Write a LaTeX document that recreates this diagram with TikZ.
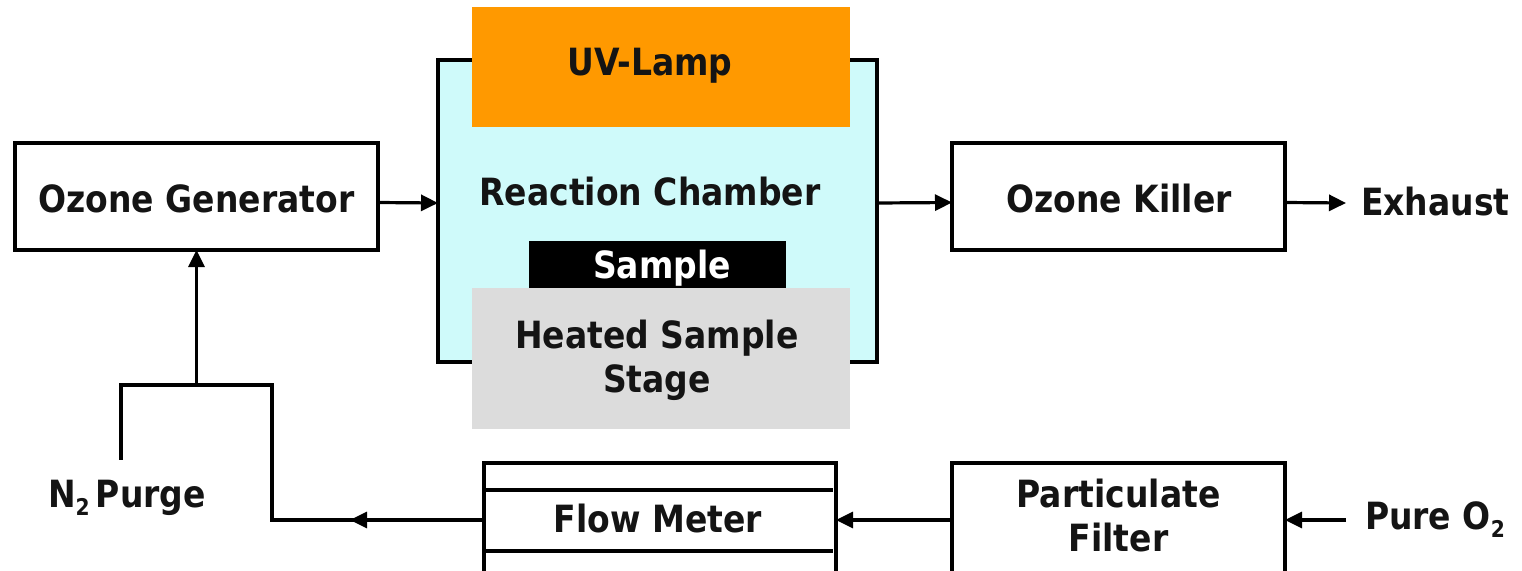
\documentclass[tikz,border=0pt]{standalone}
\usepackage{fontspec}
\setmainfont[FakeStretch=0.88]{DejaVu Sans}
\usetikzlibrary{arrows.meta}
\definecolor{chamberfill}{HTML}{CFFAFA}
\definecolor{lamporange}{HTML}{FF9900}
\definecolor{stagegray}{HTML}{DCDCDC}
\definecolor{inkdark}{HTML}{141414}
\newcommand\lowtwo{\raisebox{-8pt}{\fontsize{23}{23}\selectfont 2}}
\tikzset{
  boxstyle/.style={draw=black, line width=3.5pt, fill=white, inner sep=0pt, outer sep=0pt},
  fillblock/.style={inner sep=0pt, outer sep=0pt},
  txt/.style={text=inkdark, align=center, inner sep=0pt, outer sep=0pt},
  arr/.style={line width=3.2pt, -{Triangle[length=17pt,width=16pt]}},
  wire/.style={line width=3.2pt}
}
\begin{document}
\begin{tikzpicture}[x=1pt,y=-1pt,font=\bfseries\fontsize{37.5}{44}\selectfont]
\useasboundingbox (0,0) rectangle (1522,570);
% reaction chamber
\node[boxstyle, fill=chamberfill, minimum width=439, minimum height=302] (ch) at (657.5,211) {};
\node[fillblock, fill=lamporange, minimum width=378, minimum height=120] (uv) at (661,67) {};
\node[txt] (uvtext) at (650,66) {UV-Lamp};
\node[txt] (chtext) at (650,192) {Reaction Chamber};
\node[fillblock, fill=black, minimum width=257, minimum height=54] (smp) at (657.5,268) {};
\node[txt, text=white] (smptext) at (662,268) {Sample};
\node[fillblock, fill=stagegray, minimum width=378, minimum height=141] (stg) at (661,358.5) {};
\node[txt] (stgtext) at (657,360) {Heated Sample\\Stage};
% top row
\node[boxstyle, minimum width=363, minimum height=107] (og) at (196.5,196.5) {};
\node[txt] (ogtext) at (196.5,199) {Ozone Generator};
\node[boxstyle, minimum width=333, minimum height=107] (ok) at (1118.5,196.5) {};
\node[txt] (oktext) at (1119,199) {Ozone Killer};
\node[txt, anchor=west] (exh) at (1361,202) {Exhaust};
\coordinate (exhin) at (1346,203);
% bottom row
\node[boxstyle, minimum width=352, minimum height=130] (fm) at (660,528) {};
\node[txt] (fmtext) at (658,519) {Flow Meter};
\node[boxstyle, minimum width=333, minimum height=130] (pf) at (1118.5,528) {};
\node[txt] (pftext) at (1118.5,516) {Particulate\\Filter};
\node[txt, anchor=base west] (po) at (1365,529) {Pure O\lowtwo};
\coordinate (poout) at (1346,520);
\node[txt, anchor=base west] (n2) at (48,507) {N\lowtwo\,Purge};
% flow meter inner lines
\draw[wire] ([yshift=-27pt]fm.north west) -- ([yshift=-27pt,xshift=-3pt]fm.north east);
\draw[wire] ([yshift=-88pt]fm.north west) -- ([yshift=-88pt,xshift=-3pt]fm.north east);
% connectors
\coordinate (chin) at (438,203);
\coordinate (chout) at (877,203);
\draw[arr] ([yshift=-6pt]og.east) -- (chin);
\draw[arr] (chout) -- ([yshift=-6pt]ok.west);
\draw[arr] ([yshift=-6pt]ok.east) -- (exhin);
\draw[arr] (poout) -- ([yshift=8pt]pf.east);
\draw[arr] ([yshift=8pt]pf.west) -- ([yshift=8pt]fm.east);
\coordinate (c1) at (272,520);
\coordinate (c2) at (272,385);
\coordinate (c3) at (121,385);
\coordinate (n2end) at (121,460);
\coordinate (midtip) at (350,520);
\draw[wire] ([yshift=8pt]fm.west) -- (c1) -- (c2) -- (c3) -- (n2end);
\draw[arr] ([yshift=8pt]fm.west) -- (midtip);
\draw[arr] (og.south |- c2) -- (og.south);
\end{tikzpicture}
\end{document}
